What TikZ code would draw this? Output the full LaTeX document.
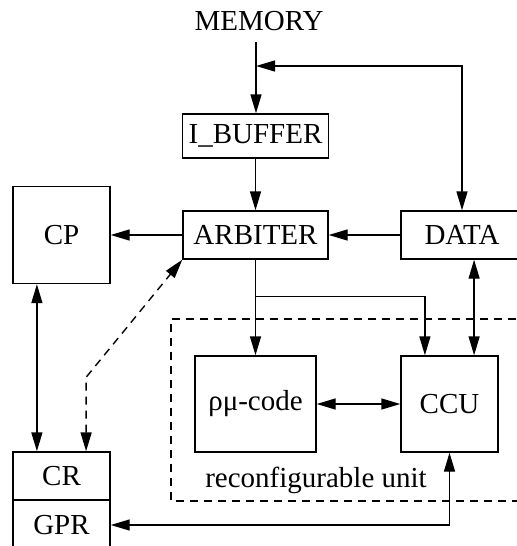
\documentclass[tikz,border=0pt]{standalone}
\usepackage{fontspec}
\setmainfont{Liberation Serif}
\usetikzlibrary{arrows.meta,calc}

\begin{document}
\begin{tikzpicture}[x=0.5pt,y=-0.5pt]

\useasboundingbox (0,0) rectangle (516,546);

%blocks
\tikzstyle{block} = [draw=black, rectangle, line width=0.7pt, inner sep=0pt, text centered, font=\fontsize{14.5}{17}\selectfont]
\tikzstyle{plaintext} = [inner sep=0pt, text centered, font=\fontsize{14.5}{17}\selectfont]
\tikzstyle{link} = [line width=0.7pt, -{Triangle[length=9.5pt,width=5.5pt]}]
\tikzstyle{twoway} = [line width=0.7pt, {Triangle[length=9.5pt,width=5.5pt]}-{Triangle[length=9.5pt,width=5.5pt]}]

\node (mem)  [plaintext] at (259,21) {MEMORY};
\node (ibuf) [block, minimum width=73pt,   minimum height=22pt]   at (255.5,136) {I\_BUFFER};
\node (arb)  [block, minimum width=72.5pt, minimum height=24pt]   at (255.5,235) {ARBITER};
\node (cp)   [block, minimum width=48.5pt, minimum height=48.5pt] at (61.5,235)  {CP};
\node (data) [block, minimum width=61pt,   minimum height=24pt]   at (462,235)   {DATA};
\node (rho)  [block, minimum width=60.5pt, minimum height=48pt]   at (255.5,404) {ρμ-code};
\node (ccu)  [block, minimum width=48.5pt, minimum height=48pt]   at (449.5,404) {CCU};
\node (cr)   [block, minimum width=48.5pt, minimum height=24pt]   at (61.5,476)  {CR};
\node (gpr)  [block, minimum width=48.5pt, minimum height=25pt]   at (61.5,525)  {GPR};

%reconfigurable unit
\draw[line width=0.7pt, dash pattern=on 4pt off 3pt] (530,319) -- (171,319) -- (171,501) -- (530,501);
\node (ru) [plaintext] at (316,480) {reconfigurable unit};

%links
\coordinate (membus) at (256,42);
\coordinate (tap) at (256,66);
\draw[link] (membus) -- (membus |- ibuf.north);
\draw[twoway] (tap) -| (data.north);
\draw[link] (ibuf.south) -- (arb.north);
\draw[link] (arb.west) -- (cp.east);
\draw[link] (data.west) -- (arb.east);
\draw[link] (arb.south) -- (rho.north);
\coordinate (split) at ($(arb.south)+(0,37)$);
\draw[link] (split) -| ($(ccu.north west)!0.25!(ccu.north east)$);
\coordinate (ccudata) at ($(ccu.north west)!0.75!(ccu.north east)$);
\draw[twoway] (ccudata |- data.south) -- (ccudata);
\draw[twoway] (rho.east) -- (ccu.west);
\draw[twoway] (gpr.east) -| (ccu.south);
\coordinate (cpbus) at ($(cp.south west)!0.25!(cp.south east)$);
\draw[twoway] (cpbus) -- (cpbus |- cr.north);
\coordinate (crdash) at ($(cr.north west)!0.75!(cr.north east)$);
\draw[twoway, dash pattern=on 4pt off 3pt] (crdash) -- ++(0,-74) -- (arb.south west);

\end{tikzpicture}
\end{document}
